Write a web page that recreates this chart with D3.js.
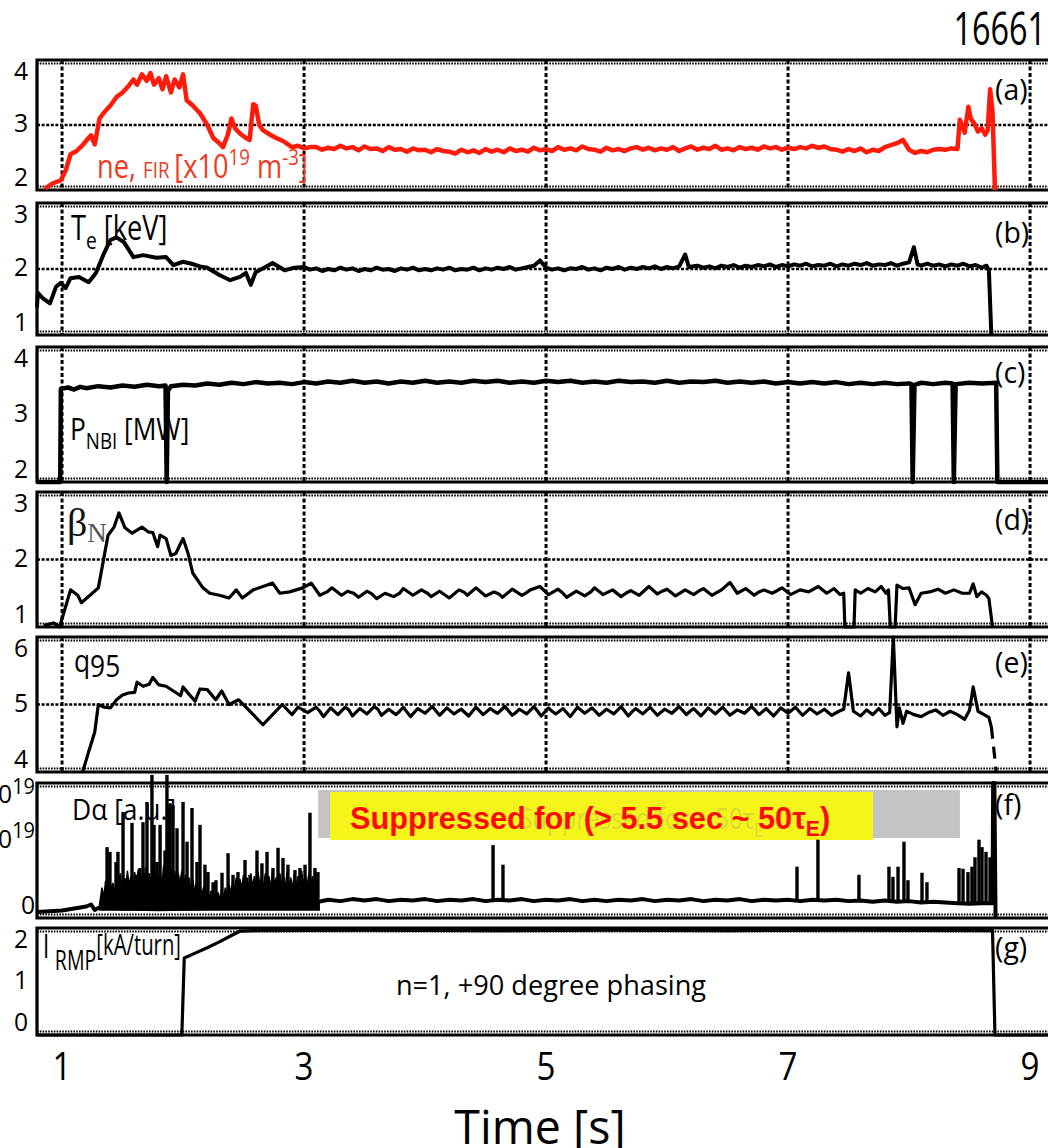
<!DOCTYPE html>
<html>
<head>
<meta charset="utf-8">
<script src="https://cdn.jsdelivr.net/npm/d3@7"></script>
<style>
  body { margin: 0; background: #fff; }
</style>
</head>
<body>
<svg id="fig" width="1048" height="1148"></svg>
<script>
// ---------------- shot 16661 : time traces ----------------
const timeTicks = [1, 3, 5, 7, 9];

// (a) line-averaged density from FIR [1e19 m^-3]
const neFIR = [
  [0.86,2.02],[0.92,2.1],[0.99,2.15],[1.03,2.3],[1.07,2.55],[1.12,2.6],[1.17,2.69],[1.21,2.78],[1.24,2.84],
  [1.27,2.7],[1.31,3.1],[1.35,3.2],[1.4,3.3],[1.45,3.43],[1.5,3.5],[1.55,3.6],[1.59,3.7],[1.62,3.62],
  [1.66,3.78],[1.7,3.68],[1.73,3.8],[1.76,3.62],[1.8,3.72],[1.83,3.55],[1.86,3.75],[1.9,3.5],[1.93,3.7],
  [1.97,3.58],[2.0,3.78],[2.03,3.38],[2.08,3.3],[2.14,3.18],[2.2,3.0],[2.25,2.8],[2.3,2.72],[2.33,2.66],
  [2.37,2.85],[2.4,3.1],[2.43,2.95],[2.47,2.87],[2.52,2.8],[2.55,2.77],[2.58,3.32],[2.6,3.3],[2.63,3.0],
  [2.66,2.92],[2.72,2.85],[2.77,2.8],[2.83,2.75],[2.9,2.66],[2.95,2.68],[3.0,2.64],[3.05,2.66],
  [3.10,2.66],[3.15,2.62],[3.20,2.65],[3.25,2.63],[3.30,2.68],[3.35,2.64],[3.40,2.66],[3.45,2.61],
  [3.50,2.67],[3.55,2.63],[3.60,2.64],[3.65,2.60],[3.70,2.66],[3.75,2.62],[3.80,2.63],[3.85,2.59],
  [3.90,2.64],[3.95,2.61],[4.00,2.62],[4.05,2.58],[4.10,2.63],[4.15,2.60],[4.20,2.59],[4.25,2.56],
  [4.30,2.62],[4.35,2.58],[4.40,2.61],[4.45,2.57],[4.50,2.63],[4.55,2.59],[4.60,2.62],[4.65,2.58],
  [4.70,2.64],[4.75,2.60],[4.80,2.62],[4.85,2.59],[4.90,2.65],[4.95,2.61],[5.00,2.63],[5.05,2.60],
  [5.10,2.66],[5.15,2.62],[5.20,2.64],[5.25,2.61],[5.30,2.67],[5.35,2.63],[5.40,2.62],[5.45,2.59],
  [5.50,2.65],[5.55,2.61],[5.60,2.63],[5.65,2.60],[5.70,2.64],[5.75,2.66],[5.80,2.62],[5.85,2.65],
  [5.90,2.61],[5.95,2.64],[6.00,2.62],[6.05,2.66],[6.10,2.60],[6.15,2.64],[6.20,2.67],[6.25,2.62],
  [6.30,2.65],[6.35,2.63],[6.40,2.68],[6.45,2.62],[6.50,2.64],[6.55,2.61],[6.60,2.66],[6.65,2.63],
  [6.70,2.65],[6.75,2.62],[6.80,2.67],[6.85,2.64],[6.90,2.66],[6.95,2.62],[7.00,2.65],[7.05,2.63],
  [7.10,2.66],[7.15,2.64],[7.20,2.68],[7.25,2.65],[7.30,2.67],[7.35,2.63],[7.40,2.62],[7.45,2.59],
  [7.50,2.63],[7.55,2.60],[7.60,2.64],[7.65,2.58],[7.70,2.62],[7.75,2.60],[7.80,2.66],[7.85,2.69],
  [7.90,2.72],[7.95,2.77],[8.00,2.62],[8.05,2.57],[8.10,2.60],[8.15,2.58],[8.20,2.62],[8.25,2.63],
  [8.30,2.62],[8.35,2.64],[8.40,2.63],[8.42,3.08],[8.44,2.98],[8.46,2.88],[8.49,3.28],[8.51,3.1],
  [8.54,3.02],[8.57,2.9],[8.60,2.95],[8.63,2.85],[8.65,2.92],[8.67,3.55],[8.69,3.2],[8.71,2.0]
];

// (b) electron temperature [keV]
const teKeV = [
  [0.793,1.42],[0.8,1.64],[0.84,1.56],[0.9,1.48],[0.95,1.73],[0.99,1.79],[1.03,1.71],[1.07,1.86],
  [1.14,1.88],[1.22,1.8],[1.28,1.94],[1.34,2.21],[1.4,2.44],[1.45,2.48],[1.51,2.41],[1.59,2.18],
  [1.67,2.21],[1.78,2.17],[1.86,2.18],[1.92,2.06],[2.0,2.11],[2.07,2.08],[2.14,2.04],[2.2,2.02],
  [2.3,1.91],[2.39,1.83],[2.47,1.88],[2.52,1.94],[2.56,1.76],[2.6,1.95],[2.67,2.02],[2.74,2.09],
  [2.84,1.98],[2.92,2.02],
  [3.00,2.03],[3.05,1.99],[3.10,2.01],[3.15,1.97],[3.20,2.00],[3.25,1.98],[3.30,2.02],[3.35,1.99],
  [3.40,2.01],[3.45,1.97],[3.50,2.00],[3.55,1.98],[3.60,2.02],[3.65,1.99],[3.70,2.00],[3.75,1.97],
  [3.80,2.01],[3.85,1.99],[3.90,2.02],[3.95,1.98],[4.00,2.00],[4.05,1.98],[4.10,2.01],[4.15,1.99],
  [4.20,2.02],[4.25,1.98],[4.30,2.00],[4.35,1.99],[4.40,2.02],[4.45,1.98],[4.50,2.01],[4.55,1.99],
  [4.60,2.02],[4.65,2.00],[4.70,2.03],[4.75,1.99],[4.80,2.01],[4.85,2.03],[4.90,2.05],[4.95,2.13],
  [5.00,2.02],[5.05,1.99],[5.10,2.01],[5.15,1.98],[5.20,2.01],[5.25,2.00],[5.30,2.03],[5.35,1.99],
  [5.40,2.01],[5.45,1.98],[5.50,2.02],[5.55,2.00],[5.60,2.03],[5.65,1.99],[5.70,2.02],[5.75,2.00],
  [5.80,2.03],[5.85,2.01],[5.90,2.04],[5.95,2.00],[6.00,2.03],[6.05,2.01],[6.10,2.04],[6.15,2.22],
  [6.18,2.03],[6.25,2.05],[6.30,2.02],[6.35,2.04],[6.40,2.01],[6.45,2.05],[6.50,2.03],[6.55,2.06],
  [6.60,2.02],[6.65,2.05],[6.70,2.03],[6.75,2.06],[6.80,2.04],[6.85,2.07],[6.90,2.03],[6.95,2.06],
  [7.00,2.04],[7.05,2.07],[7.10,2.05],[7.15,2.08],[7.20,2.04],[7.25,2.06],[7.30,2.05],[7.35,2.08],
  [7.40,2.04],[7.45,2.07],[7.50,2.05],[7.55,2.08],[7.60,2.06],[7.65,2.09],[7.70,2.05],[7.75,2.07],
  [7.80,2.06],[7.85,2.09],[7.90,2.05],[7.95,2.08],[8.00,2.10],[8.04,2.33],[8.07,2.07],[8.10,2.05],
  [8.15,2.08],[8.20,2.05],[8.25,2.07],[8.30,2.04],[8.35,2.07],[8.40,2.05],[8.45,2.08],[8.50,2.04],
  [8.55,2.06],[8.60,2.02],[8.64,2.05],[8.66,1.98],[8.68,1.0]
];

// (c) neutral beam power [MW]
const pNBI = [
  [0.79,2.0],[0.985,2.0],[0.99,3.38],[1.05,3.40],[1.1,3.37],[1.15,3.41],[1.2,3.39],[1.3,3.42],
  [1.4,3.40],[1.5,3.43],[1.6,3.41],[1.7,3.44],[1.8,3.42],[1.855,3.43],[1.865,2.0],[1.875,3.35],
  [1.9,3.42],[2.0,3.44],[2.1,3.43],[2.2,3.46],[2.3,3.44],[2.4,3.47],[2.5,3.45],[2.6,3.48],[2.7,3.46],
  [2.8,3.47],[2.9,3.45],[3.0,3.48],[3.1,3.46],[3.2,3.49],[3.3,3.47],[3.4,3.50],[3.5,3.47],[3.6,3.49],
  [3.7,3.46],[3.8,3.49],[3.9,3.47],[4.0,3.50],[4.1,3.47],[4.2,3.49],[4.3,3.47],[4.4,3.50],[4.5,3.48],
  [4.6,3.50],[4.7,3.47],[4.8,3.49],[4.9,3.47],[5.0,3.50],[5.1,3.48],[5.2,3.50],[5.3,3.47],[5.4,3.49],
  [5.5,3.47],[5.6,3.50],[5.7,3.48],[5.8,3.49],[5.9,3.47],[6.0,3.50],[6.1,3.47],[6.2,3.49],[6.3,3.48],
  [6.4,3.50],[6.5,3.47],[6.6,3.49],[6.7,3.47],[6.8,3.49],[6.9,3.46],[7.0,3.48],[7.1,3.46],[7.2,3.48],
  [7.3,3.46],[7.4,3.48],[7.5,3.45],[7.6,3.47],[7.7,3.45],[7.8,3.47],[7.9,3.45],[8.0,3.46],[8.02,3.45],
  [8.03,2.0],[8.045,3.44],[8.1,3.47],[8.2,3.45],[8.3,3.47],[8.36,3.46],[8.37,2.0],[8.385,3.45],
  [8.5,3.47],[8.6,3.46],[8.72,3.47],[8.73,2.0],[9.2,2.0]
];

// (d) normalized beta
const betaN = [
  [0.85,1.02],[0.93,1.06],[0.98,1.0],[1.07,1.55],[1.13,1.47],[1.16,1.36],[1.25,1.5],[1.3,1.58],
  [1.38,2.36],[1.43,2.48],[1.47,2.69],[1.52,2.47],[1.58,2.39],[1.66,2.48],[1.71,2.41],[1.75,2.4],
  [1.79,2.19],[1.81,2.36],[1.86,2.31],[1.9,2.06],[1.94,2.09],[2.0,2.31],[2.04,2.1],[2.08,1.8],
  [2.16,1.59],[2.22,1.5],[2.3,1.47],[2.38,1.43],[2.44,1.55],[2.49,1.43],[2.58,1.55],[2.69,1.62],
  [2.74,1.65],[2.8,1.5],[2.88,1.52],[2.99,1.58],[3.06,1.65],[3.13,1.47],[3.19,1.52],[3.23,1.58],
  [3.31,1.47],[3.36,1.53],[3.41,1.5],[3.45,1.44],[3.52,1.53],[3.56,1.49],[3.6,1.42],[3.67,1.5],
  [3.74,1.45],[3.79,1.5],[3.82,1.57],[3.9,1.47],[3.97,1.55],[4.02,1.5],[4.05,1.45],[4.12,1.53],
  [4.2,1.43],[4.28,1.55],[4.32,1.52],[4.35,1.47],[4.42,1.58],[4.5,1.46],[4.57,1.52],[4.61,1.49],
  [4.64,1.44],[4.72,1.56],[4.8,1.47],[4.84,1.51],[4.87,1.55],[4.95,1.6],[5.02,1.48],[5.1,1.56],
  [5.14,1.5],[5.17,1.44],[5.25,1.53],[5.32,1.46],[5.37,1.52],[5.4,1.58],[5.47,1.48],[5.55,1.55],
  [5.62,1.45],[5.66,1.5],[5.7,1.54],[5.77,1.47],[5.85,1.6],[5.92,1.49],[5.96,1.53],[6.0,1.56],
  [6.07,1.46],[6.15,1.55],[6.22,1.48],[6.26,1.53],[6.3,1.57],[6.37,1.47],[6.45,1.55],[6.52,1.66],
  [6.58,1.5],[6.65,1.57],[6.72,1.47],[6.76,1.52],[6.8,1.55],[6.87,1.5],[6.95,1.58],[7.02,1.48],
  [7.1,1.55],[7.17,1.52],[7.25,1.6],[7.32,1.5],[7.38,1.57],[7.43,1.48],
  [7.46,1.5],[7.47,1.0],[7.545,1.0],[7.555,1.55],[7.6,1.5],[7.66,1.57],[7.72,1.52],[7.77,1.6],
  [7.81,1.5],[7.83,1.55],[7.845,1.0],[7.885,1.0],[7.9,1.62],[7.95,1.57],[8.0,1.58],[8.05,1.33],
  [8.1,1.5],[8.17,1.52],[8.24,1.56],[8.3,1.5],[8.37,1.55],[8.44,1.5],[8.5,1.5],[8.53,1.64],
  [8.56,1.45],[8.6,1.52],[8.64,1.47],[8.66,1.42],[8.69,1.0]
];

// (e) safety factor at 95% flux
const q95 = [
  [1.17,4.0],[1.22,4.3],[1.27,4.59],[1.3,5.0],[1.35,4.96],[1.4,4.95],[1.45,5.07],[1.5,5.14],
  [1.55,5.17],[1.6,5.18],[1.62,5.33],[1.67,5.27],[1.72,5.3],[1.75,5.4],[1.8,5.29],[1.86,5.27],
  [1.92,5.2],[1.98,5.13],[2.0,5.26],[2.05,5.15],[2.1,5.05],[2.14,5.23],[2.2,5.22],[2.27,5.07],
  [2.32,5.2],[2.38,5.0],[2.46,5.07],[2.52,4.96],[2.58,4.85],[2.66,4.7],[2.74,4.85],[2.82,5.0],
  [2.9,4.85],[2.95,4.96],[3.03,4.88],[3.1,4.96],[3.13,4.9],[3.16,4.82],[3.22,4.95],[3.28,4.85],
  [3.34,4.96],[3.37,4.92],[3.4,4.83],[3.46,4.94],[3.52,4.86],[3.58,4.97],[3.61,4.93],[3.64,4.84],
  [3.7,4.93],[3.76,4.85],[3.79,4.9],[3.82,4.96],[3.88,4.82],[3.94,4.94],[4.0,4.87],[4.03,4.92],
  [4.06,4.97],[4.12,4.84],[4.18,4.95],[4.24,4.86],[4.27,4.9],[4.3,4.93],[4.36,4.83],[4.42,4.96],
  [4.48,4.85],[4.54,4.94],[4.57,4.9],[4.6,4.87],[4.66,4.97],[4.72,4.84],[4.75,4.88],[4.78,4.93],
  [4.84,4.86],[4.9,4.97],[4.96,4.83],[5.02,4.95],[5.05,4.9],[5.08,4.86],[5.14,4.94],[5.2,4.82],
  [5.26,4.96],[5.32,4.87],[5.35,4.91],[5.38,4.95],[5.44,4.84],[5.5,4.93],[5.56,4.86],[5.62,4.97],
  [5.68,4.83],[5.71,4.89],[5.74,4.94],[5.8,4.86],[5.86,4.96],[5.92,4.84],[5.98,4.93],[6.04,4.87],
  [6.1,4.97],[6.16,4.85],[6.19,4.9],[6.22,4.94],[6.28,4.83],[6.34,4.95],[6.4,4.86],[6.46,4.96],
  [6.52,4.84],[6.58,4.92],[6.64,4.87],[6.7,4.97],[6.76,4.85],[6.82,4.94],[6.88,4.83],[6.94,4.95],
  [7.0,4.87],[7.06,4.96],[7.12,4.84],[7.18,4.94],[7.24,4.86],[7.3,4.93],[7.36,4.84],[7.42,4.9],
  [7.46,4.93],[7.5,5.47],[7.54,4.9],[7.6,4.83],[7.65,4.92],[7.7,4.85],[7.75,4.94],[7.8,4.84],
  [7.84,4.88],[7.87,6.0],[7.9,4.67],[7.92,4.95],[7.95,4.72],[7.98,4.9],[8.04,4.85],[8.1,4.82],
  [8.16,4.88],[8.22,4.92],[8.28,4.84],[8.34,4.9],[8.4,4.85],[8.46,4.78],[8.5,4.92],[8.53,5.26],
  [8.57,4.9],[8.62,4.85],[8.66,4.81],[8.68,4.67]
];
// (e) unreliable reconstruction at the end of the discharge (dashed)
const q95Tail = [[8.68,4.67],[8.70,4.35],[8.72,4.0]];

// (f) D-alpha [a.u., 1e19] : baseline, ELM-burst envelope and isolated spikes
const dAlphaBase = [
  [0.793,0.09],[0.9,0.1],[1.0,0.11],[1.1,0.14],[1.2,0.17],[1.24,0.2],[1.27,0.12],[1.3,0.15],
  [1.5,0.14],[1.8,0.13],[2.1,0.14],[2.4,0.16],[2.7,0.17],[3.0,0.18],[3.12,0.24],
  [3.2,0.27],[3.3,0.25],[3.4,0.28],[3.5,0.26],[3.6,0.28],[3.7,0.25],[3.8,0.27],[3.9,0.26],
  [4.0,0.28],[4.1,0.25],[4.2,0.27],[4.3,0.26],[4.4,0.28],[4.5,0.25],[4.6,0.27],[4.7,0.26],
  [4.8,0.28],[4.9,0.25],[5.0,0.27],[5.1,0.26],[5.2,0.28],[5.3,0.25],[5.4,0.27],[5.5,0.25],
  [5.6,0.27],[5.7,0.26],[5.8,0.28],[5.9,0.25],[6.0,0.27],[6.1,0.26],[6.2,0.28],[6.3,0.25],
  [6.4,0.27],[6.5,0.26],[6.6,0.28],[6.7,0.25],[6.8,0.27],[6.9,0.26],[7.0,0.27],[7.1,0.25],
  [7.2,0.27],[7.3,0.26],[7.4,0.27],[7.5,0.25],[7.6,0.26],[7.7,0.24],[7.8,0.26],[7.9,0.24],
  [8.0,0.25],[8.1,0.23],[8.2,0.24],[8.3,0.23],[8.4,0.22],[8.5,0.21],[8.6,0.22],[8.69,0.22],
  [8.695,2.0],[8.705,2.0],[8.715,0.0]
];
const dAlphaBand = [
  [1.31,0.2],[1.33,0.45],[1.345,0.3],[1.36,0.55],[1.375,0.38],[1.39,0.6],[1.405,0.42],[1.42,0.52],
  [1.435,0.35],[1.45,0.62],[1.465,0.4],[1.48,0.66],[1.495,0.45],[1.51,0.58],[1.525,0.4],[1.54,0.7],
  [1.555,0.48],[1.57,0.62],[1.585,0.44],[1.6,0.68],[1.615,0.5],[1.63,0.72],[1.645,0.46],[1.66,0.64],
  [1.675,0.5],[1.69,0.75],[1.705,0.48],[1.72,0.66],[1.735,0.52],[1.75,0.7],[1.765,0.5],[1.78,0.74],
  [1.795,0.55],[1.81,0.66],[1.825,0.5],[1.84,0.78],[1.855,0.52],[1.87,0.68],[1.885,0.54],[1.9,0.72],
  [1.915,0.5],[1.93,0.7],[1.945,0.48],[1.96,0.66],[1.975,0.52],[1.99,0.7],[2.005,0.46],[2.02,0.64],
  [2.035,0.44],[2.05,0.6],[2.065,0.4],[2.08,0.58],[2.095,0.38],[2.11,0.52],[2.125,0.36],[2.14,0.5],
  [2.155,0.32],[2.17,0.46],[2.185,0.3],[2.2,0.42],[2.215,0.28],[2.23,0.4],[2.245,0.27],[2.26,0.36],
  [2.275,0.26],[2.29,0.38],[2.305,0.27],[2.32,0.42],[2.335,0.3],[2.35,0.45],[2.365,0.32],[2.38,0.5],
  [2.395,0.36],[2.41,0.55],[2.425,0.4],[2.44,0.6],[2.455,0.42],[2.47,0.58],[2.485,0.44],[2.5,0.64],
  [2.515,0.46],[2.53,0.6],[2.545,0.42],[2.56,0.66],[2.575,0.45],[2.59,0.62],[2.605,0.46],[2.62,0.68],
  [2.635,0.48],[2.65,0.6],[2.665,0.44],[2.68,0.66],[2.695,0.47],[2.71,0.62],[2.725,0.45],[2.74,0.68],
  [2.755,0.48],[2.77,0.6],[2.785,0.44],[2.8,0.66],[2.815,0.46],[2.83,0.62],[2.845,0.45],[2.86,0.68],
  [2.875,0.47],[2.89,0.6],[2.905,0.44],[2.92,0.65],[2.935,0.46],[2.95,0.62],[2.965,0.45],[2.98,0.7],
  [2.995,0.48],[3.01,0.64],[3.025,0.46],[3.04,0.66],[3.055,0.47],[3.07,0.62],[3.085,0.44],[3.1,0.6],
  [3.115,0.4],[3.125,0.22]
];
const dAlphaSpikes = [
  [1.372,1.05],[1.396,0.98],[1.446,0.83],[1.462,0.98],[1.504,1.57],[1.529,0.59],[1.578,1.41],
  [1.619,0.64],[1.644,0.74],[1.669,1.42],[1.702,1.72],[1.743,2.12],[1.76,1.38],[1.785,0.83],
  [1.81,1.38],[1.851,1.0],[1.867,2.12],[1.876,1.63],[1.892,1.70],[1.917,1.67],[1.95,1.33],
  [2.0,1.72],[2.033,1.13],[2.074,1.63],[2.115,0.83],[2.14,1.38],[2.181,0.79],[2.206,0.68],
  [2.248,0.53],[2.272,0.56],[2.322,0.67],[2.372,0.96],[2.413,0.64],[2.454,0.68],[2.512,0.86],
  [2.553,0.64],[2.611,1.0],[2.652,0.81],[2.694,0.98],[2.743,0.74],[2.785,1.04],[2.826,0.89],
  [2.867,0.79],[2.925,0.71],[2.966,0.74],[3.008,0.79],[3.049,1.56],[3.09,0.74],[3.115,0.68],
  [4.562,1.08],[4.644,0.79],[7.074,0.76],[7.247,1.16],[7.586,0.64],[7.834,0.76],[7.867,0.61],
  [7.909,0.76],[7.958,1.13],[7.991,0.56],[8.107,0.67],[8.148,0.53],[8.413,0.74],[8.446,0.73],
  [8.487,0.68],[8.52,0.76],[8.545,0.9],[8.578,1.16],[8.603,1.05],[8.636,0.98],[8.669,0.9]
];

// (g) RMP coil current [kA/turn]
const iRMP = [
  [0.793,0.0],[1.99,0.0],[2.01,1.44],[2.1,1.53],[2.2,1.63],[2.3,1.74],[2.4,1.86],[2.47,1.94],
  [2.6,1.95],[3.5,1.96],[4.5,1.95],[5.5,1.96],[6.5,1.95],[7.5,1.96],[8.69,1.95],[8.71,0.0],[9.2,0.0]
];

// tick values per panel
const neTicks = [2, 3, 4];
const teTicks = [1, 2, 3];
const nbiTicks = [2, 3, 4];
const betaTicks = [1, 2, 3];
const qTicks = [4, 5, 6];
const daTicks = [0, 1, 2];
const rmpTicks = [0, 1, 2];

// ---------------- layout ----------------
const FONT = "'Open Sans','Noto Sans','DejaVu Sans',sans-serif";
const SERIF = "'Liberation Serif','DejaVu Serif',serif";
const plotLeft = 37, plotRight = 1052;
const x = d3.scaleLinear().domain([0.793, 9.18]).range([plotLeft, plotLeft + (9.18 - 0.793) * 121]);

const panels = [
  { key: "a", top: 60,  bottom: 190,  domain: [2, 4], ticks: neTicks,   hgrid: 3, vgrid: true },
  { key: "b", top: 203, bottom: 335,  domain: [1, 3], ticks: teTicks,   hgrid: 2, vgrid: true },
  { key: "c", top: 347, bottom: 482,  domain: [2, 4], ticks: nbiTicks,  hgrid: null, vgrid: true },
  { key: "d", top: 492, bottom: 627,  domain: [1, 3], ticks: betaTicks, hgrid: 2, vgrid: true },
  { key: "e", top: 637, bottom: 772,  domain: [4, 6], ticks: qTicks,    hgrid: 5, vgrid: true },
  { key: "f", top: 783, bottom: 918,  domain: [0, 2], ticks: daTicks,   hgrid: null, vgrid: false, sci: true },
  { key: "g", top: 928, bottom: 1035, domain: [0, 2], ticks: rmpTicks,  hgrid: null, vgrid: false }
];
panels.forEach(p => { p.y = d3.scaleLinear().domain(p.domain).range([p.bottom, p.top]); });
const P = Object.fromEntries(panels.map(p => [p.key, p]));

const svg = d3.select("#fig");
svg.append("rect").attr("width", 1048).attr("height", 1148).attr("fill", "#fff");

// text placed at (xp, yp), horizontally condensed by sx
function txt(parent, xp, yp, size, sx, color, family) {
  return parent.append("text")
    .attr("transform", `translate(${xp},${yp}) scale(${sx},1)`)
    .style("font-family", family || FONT).style("font-size", size + "px")
    .attr("fill", color || "#000");
}

// ---------------- frames, grids, tick labels ----------------
panels.forEach(p => {
  const g = svg.append("g").attr("class", "panel-" + p.key);
  if (p.vgrid) {
    g.selectAll("line.vg").data(timeTicks).join("line")
      .attr("x1", d => x(d)).attr("x2", d => x(d))
      .attr("y1", p.top).attr("y2", p.bottom)
      .attr("stroke", "#000").attr("stroke-width", 3).attr("stroke-dasharray", "4,2.5");
  }
  if (p.hgrid !== null) {
    g.append("line").attr("x1", plotLeft).attr("x2", plotRight)
      .attr("y1", p.y(p.hgrid)).attr("y2", p.y(p.hgrid))
      .attr("stroke", "#000").attr("stroke-width", 2.5).attr("stroke-dasharray", "3,1.6");
  }
  // dense minor-tick rows just inside the top and bottom frame
  [p.top + 3.5, p.bottom - 3.5].forEach(yy => {
    g.append("line").attr("x1", plotLeft).attr("x2", plotRight).attr("y1", yy).attr("y2", yy)
      .attr("stroke", "#000").attr("stroke-width", 2).attr("stroke-dasharray", "1.6,1.2");
  });
  // frame: left edge, top and bottom
  g.append("path")
    .attr("d", `M${plotRight},${p.top}H${plotLeft}V${p.bottom}H${plotRight}`)
    .attr("fill", "none").attr("stroke", "#000").attr("stroke-width", 3.2);

  // y tick labels
  const [lo, hi] = p.domain;
  p.ticks.forEach(v => {
    let yy = p.y(v);
    if (v === hi) yy += 11; else if (v === lo) yy -= 13; else yy -= (p.key === "f" ? 12 : 2);
    const t = txt(g, p.sci ? 35 : 28, yy, 26, 0.95).attr("dy", "0.36em").attr("text-anchor", "end");
    if (p.sci && v !== 0) {
      t.append("tspan").text(v + "x10");
      t.append("tspan").attr("dy", "-0.45em").style("font-size", "21px").text("19");
    } else {
      t.text(v);
    }
  });
});

// ---------------- panel titles ----------------
// (a)
{
  const t = txt(svg, 97, 178, 32, 0.85, "#ee3b1f");
  t.append("tspan").text("ne, ");
  t.append("tspan").style("font-size", "22px").text("FIR ");
  t.append("tspan").text("[x10");
  t.append("tspan").attr("dy", -13).style("font-size", "22px").text("19");
  t.append("tspan").attr("dy", 13).text(" m");
  t.append("tspan").attr("dy", -13).style("font-size", "22px").text("-3");
  t.append("tspan").attr("dy", 13).text("]");
}
// (b)
{
  const t = txt(svg, 71, 240, 34, 0.8);
  t.append("tspan").text("T");
  t.append("tspan").attr("dy", 9).style("font-size", "24px").text("e");
  t.append("tspan").attr("dy", -9).text(" [keV]");
}
// (c)
{
  const t = txt(svg, 70, 440, 31, 0.85);
  t.append("tspan").text("P");
  t.append("tspan").attr("dy", 9).style("font-size", "22px").text("NBI");
  t.append("tspan").attr("dy", -9).text(" [MW]");
}
// (d)
{
  const t = txt(svg, 67, 536, 40, 1, "#111", SERIF);
  t.append("tspan").text("β");
  t.append("tspan").attr("dy", 6).style("font-size", "27px").attr("fill", "#555").text("N");
}
// (e)
{
  const t = txt(svg, 74, 672, 31, 0.85);
  t.append("tspan").text("q");
  t.append("tspan").attr("dy", 5).text("95");
}
// (f)
txt(svg, 72, 820, 30, 0.88).text("Dα [a.u.]");
// (g)
{
  const t = txt(svg, 43, 958, 32, 0.7);
  t.append("tspan").text("I");
  t.append("tspan").attr("dx", 8).attr("dy", 12).style("font-size", "28px").text("RMP");
  t.append("tspan").attr("dy", -15).style("font-size", "29px").text("[kA/turn]");
}
txt(svg, 551, 995, 28, 0.97).attr("text-anchor", "middle").text("n=1, +90 degree phasing");

// panel letters
const letterY = { a: 100, b: 243, c: 383, d: 530, e: 673, f: 815, g: 958 };
panels.forEach(p => {
  txt(svg, 995, letterY[p.key], 30, 0.95).text("(" + p.key + ")");
});

// ---------------- traces ----------------
const lineIn = p => d3.line().x(d => x(d[0])).y(d => p.y(d[1]));

svg.append("path").datum(neFIR).attr("d", lineIn(P.a))
  .attr("fill", "none").attr("stroke", "#ff1a0a").attr("stroke-width", 4.5).attr("stroke-linejoin", "round");
svg.append("path").datum(teKeV).attr("d", lineIn(P.b))
  .attr("fill", "none").attr("stroke", "#000").attr("stroke-width", 4).attr("stroke-linejoin", "round");
svg.append("path").datum(pNBI).attr("d", lineIn(P.c))
  .attr("fill", "none").attr("stroke", "#000").attr("stroke-width", 4.5).attr("stroke-linejoin", "round");
svg.append("path").datum(betaN).attr("d", lineIn(P.d))
  .attr("fill", "none").attr("stroke", "#000").attr("stroke-width", 3.2).attr("stroke-linejoin", "round");
svg.append("path").datum(q95).attr("d", lineIn(P.e))
  .attr("fill", "none").attr("stroke", "#000").attr("stroke-width", 3.2).attr("stroke-linejoin", "round");
svg.append("path").datum(q95Tail).attr("d", lineIn(P.e))
  .attr("fill", "none").attr("stroke", "#000").attr("stroke-width", 3.2).attr("stroke-dasharray", "12,8");

// suppression annotation box (behind the D-alpha trace)
{
  const tS = 3.15, tE = 8.42;       // gray bar: ELM-free window
  svg.append("rect").attr("x", x(tS) - 4).attr("y", 790).attr("width", x(tE) - x(tS) + 4).attr("height", 48)
    .attr("fill", "#c3c3c3");
  svg.append("rect").attr("x", 330).attr("y", 792).attr("width", 543).attr("height", 48).attr("fill", "#f5f51c");
  const ghost = txt(svg, 519, 829, 30, 0.8, "#9a9a70").attr("opacity", 0.28);
  ghost.append("tspan").text("Suppressed for ~ 50τ");
  ghost.append("tspan").attr("dy", 8).style("font-size", "20px").text("E");
  const t = txt(svg, 350, 829, 32, 0.96, "#ff0a0a", "'Liberation Sans',Arial,sans-serif")
    .style("font-weight", "bold");
  t.append("tspan").text("Suppressed for (> 5.5 sec ~ 50τ");
  t.append("tspan").attr("dy", 7).style("font-size", "22px").text("E");
  t.append("tspan").attr("dy", -7).text(")");
}

// D-alpha: burst envelope, baseline and spikes
svg.append("path").datum(dAlphaBand)
  .attr("d", d3.area().x(d => x(d[0])).y0(P.f.y(0.12)).y1(d => P.f.y(d[1])))
  .attr("fill", "#000").attr("stroke", "#000").attr("stroke-width", 1.5);
svg.append("path").datum(dAlphaBase).attr("d", lineIn(P.f))
  .attr("fill", "none").attr("stroke", "#000").attr("stroke-width", 4).attr("stroke-linejoin", "round");
const baseAt = t => {
  if (t >= 1.31 && t <= 3.12) return 0.3;
  const i = d3.bisector(d => d[0]).left(dAlphaBase, t);
  return dAlphaBase[Math.min(i, dAlphaBase.length - 1)][1];
};
svg.selectAll("line.spike").data(dAlphaSpikes).join("line")
  .attr("x1", d => x(d[0])).attr("x2", d => x(d[0]))
  .attr("y1", d => P.f.y(baseAt(d[0]))).attr("y2", d => P.f.y(d[1]))
  .attr("stroke", "#000").attr("stroke-width", 3.4);

svg.append("path").datum(iRMP).attr("d", lineIn(P.g))
  .attr("fill", "none").attr("stroke", "#000").attr("stroke-width", 3.2).attr("stroke-linejoin", "round");

// ---------------- time axis ----------------
timeTicks.forEach(d => {
  txt(svg, x(d), 1080, 39, 0.85).attr("text-anchor", "middle").text(d);
});
txt(svg, 540, 1144, 48, 0.97).attr("text-anchor", "middle").text("Time [s]");

// shot number
txt(svg, 1046, 45, 45, 0.72).attr("text-anchor", "end").text("16661");
</script>
</body>
</html>
